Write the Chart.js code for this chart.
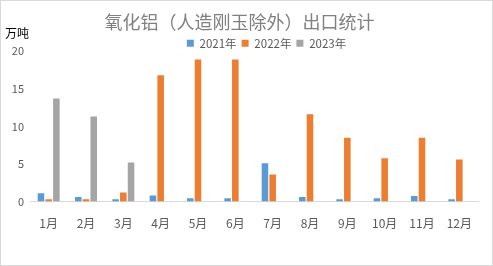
<!DOCTYPE html>
<html><head><meta charset="utf-8">
<script src="https://cdn.jsdelivr.net/npm/chart.js@4.4.1/dist/chart.umd.min.js"></script>
<style>
html,body{margin:0;padding:0;background:#fff;}
#wrap{position:relative;width:493px;height:266px;box-sizing:border-box;border:1px solid #d9d9d9;}
canvas{display:block;}
</style></head><body>
<div id="wrap"><canvas id="c" width="491" height="264"></canvas></div>
<script>
const categories = ['1月','2月','3月','4月','5月','6月','7月','8月','9月','10月','11月','12月'];
const seriesNames = ['2021年','2022年','2023年'];
const values2021 = [1.1,0.6,0.3,0.8,0.45,0.45,5.1,0.6,0.3,0.45,0.75,0.3];
const values2022 = [0.3,0.3,1.2,16.8,18.9,18.9,3.6,11.6,8.5,5.75,8.5,5.6];
const values2023 = [13.7,11.3,5.2,null,null,null,null,null,null,null,null,null];
const yTicks = [0,5,10,15,20];
const colors = ['#5B9BD5','#ED7D31','#A5A5A5'];
const FONT = '"Noto Sans CJK SC","Noto Sans",sans-serif';

const unitPlugin = {
  id:'unit',
  beforeLayout(chart){
    const lg = chart.legend;
    if (lg && !lg._patched){
      const orig = lg.fit.bind(lg);
      lg.fit = function(){ orig(); this.height = Math.max(0, this.height - chart.options.plugins.unit.shrink); };
      lg._patched = true;
    }
  },
  afterLayout(chart){
    const lg = chart.legend;
    if (lg){ const s = chart.options.plugins.unit.legendShift; lg.left += s; lg.right += s; }
  },
  afterDraw(chart){
    const ctx = chart.ctx;
    ctx.save();
    ctx.font = '12px ' + FONT;
    ctx.fillStyle = '#000';
    ctx.textAlign = 'left';
    ctx.textBaseline = 'middle';
    ctx.fillText('万吨', 4, 32);
    ctx.restore();
  }
};

new Chart(document.getElementById('c'), {
  type:'bar',
  data:{
    labels:categories,
    datasets:[values2021,values2022,values2023].map((d,i)=>({
      label:seriesNames[i], data:d, backgroundColor:colors[i],
      categoryPercentage:0.62, barPercentage:0.85
    }))
  },
  options:{
    responsive:false, animation:false, devicePixelRatio:1,
    layout:{padding:{left:0,right:14,top:0,bottom:19}},
    plugins:{
      unit:{shrink:8, legendShift:27},
      title:{display:true,text:'氧化铝（人造刚玉除外）出口统计',color:'#808080',
        font:{family:FONT,size:18,weight:'normal'},padding:{top:10,bottom:0}},
      legend:{display:true,position:'top',
        labels:{boxWidth:7,boxHeight:7,color:'#595959',font:{family:FONT,size:11.5},padding:5}},
      tooltip:{enabled:false}
    },
    scales:{
      x:{grid:{display:false,drawTicks:false},border:{display:true,color:'#d9d9d9'},
        ticks:{color:'#595959',font:{family:FONT,size:12},padding:15}},
      y:{min:0,max:20,grid:{display:false,drawTicks:false},border:{display:false},
        afterBuildTicks(s){ s.ticks = yTicks.map(v=>({value:v})); },
        afterFit(s){ s.width = 29; },
        ticks:{color:'#595959',font:{family:FONT,size:11},padding:6}}
    }
  },
  plugins:[unitPlugin]
});
</script>
</body></html>
